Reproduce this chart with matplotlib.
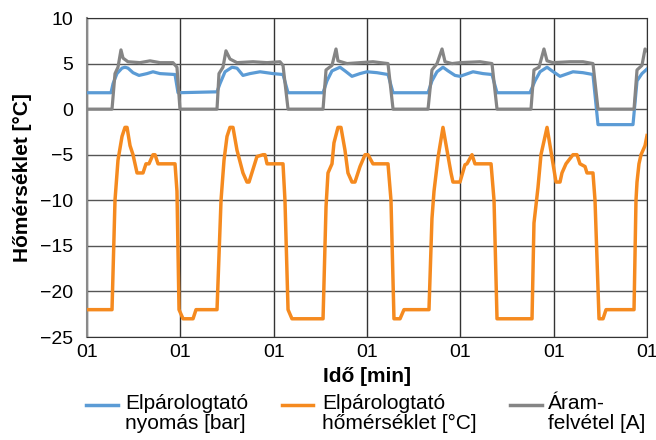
import matplotlib.pyplot as plt
from matplotlib.lines import Line2D

plt.rcParams['font.family'] = ['Liberation Sans', 'DejaVu Sans']

# Elpárologtató nyomás [bar]
t_nyomas = [0.0, 2.57, 2.79, 3.21, 3.75, 4.07, 4.39, 4.93, 5.57, 6.43, 7.07, 7.82, 9.43, 9.75,
            13.93, 14.25, 14.79, 15.54, 16.07, 16.71, 17.46, 18.54, 19.93, 21.0, 21.54,
            25.29, 25.71, 26.25, 27.11, 27.64, 28.39, 29.25, 30.0, 31.07, 32.25, 32.79,
            36.54, 36.96, 37.5, 38.14, 38.68, 39.43, 39.96, 41.36, 42.43, 43.39, 43.93,
            47.46, 48.0, 48.54, 49.29, 49.82, 50.68, 52.07, 53.14, 54.21, 54.75,
            58.5, 58.93, 59.46, 60.0]
nyomas = [1.8, 1.8, 2.8, 3.9, 4.5, 4.6, 4.5, 4.0, 3.7, 3.9, 4.1, 3.9, 3.8, 1.8,
          1.9, 2.8, 4.1, 4.6, 4.5, 3.7, 3.9, 4.1, 3.9, 3.8, 1.8,
          1.8, 3.1, 4.2, 4.6, 4.2, 3.6, 3.9, 4.1, 4.0, 3.8, 1.8,
          1.8, 3.1, 4.1, 4.6, 4.2, 3.7, 3.6, 4.1, 3.9, 3.8, 1.8,
          1.8, 3.1, 4.1, 4.6, 4.2, 3.6, 4.1, 4.0, 3.8, -1.7,
          -1.7, 3.1, 3.9, 4.4]

# Elpárologtató hőmérséklet [°C]
t_homerseklet = [0.0, 2.68, 3.0, 3.32, 3.75, 4.07, 4.29, 4.61, 4.93, 5.36, 6.0, 6.32, 6.64,
                 7.07, 7.29, 7.61, 9.43, 9.64, 9.86, 10.29, 11.36, 11.68,
                 13.93, 14.36, 14.68, 15.0, 15.32, 15.64, 16.07, 16.71, 17.14, 17.36, 18.21,
                 18.86, 19.07, 19.29, 21.0, 21.21, 21.54, 21.96,
                 25.29, 25.61, 25.82, 26.25, 26.46, 26.89, 27.21, 27.64, 27.96, 28.39, 28.71,
                 29.25, 29.79, 30.11, 30.64, 32.25, 32.57, 32.89, 33.54, 33.96,
                 36.64, 36.96, 37.18, 37.61, 38.14, 38.57, 39.0, 39.21, 39.96, 40.5, 40.71,
                 41.25, 41.57, 43.29, 43.61, 43.93,
                 47.68, 47.89, 48.32, 48.64, 49.29, 50.25, 50.68, 50.89, 51.32, 52.07, 52.5,
                 52.82, 53.36, 53.57, 54.21, 54.43, 54.86, 55.29, 55.61,
                 58.61, 58.82, 58.93, 59.14, 59.36, 59.79, 60.0]
homerseklet = [-22, -22, -10, -5.6, -3, -2, -2, -4, -5, -7, -7, -6, -6,
               -5, -5, -6, -6, -9, -22, -23, -23, -22,
               -22, -10, -5.6, -3, -2, -2, -4.5, -7, -8, -8, -5.2,
               -5, -5, -6, -6, -10, -22, -23,
               -23, -10.7, -7, -6, -3.7, -2, -2, -4.5, -7, -8, -8,
               -6.3, -5, -5, -6, -6, -10, -23, -23, -22,
               -22, -12, -9, -5.3, -2, -4.5, -7, -8, -8, -6.1, -6,
               -5, -6, -6, -10, -23,
               -23, -12.5, -8.6, -5, -2, -8, -8, -7, -6, -5, -5,
               -6, -6.3, -7, -7, -10, -23, -23, -22,
               -22, -10, -8, -6, -5, -4, -2.9]

# Áramfelvétel [A]
t_aram = [0.0, 2.68, 3.0, 3.32, 3.64, 3.86, 4.39, 5.68, 6.75, 7.82, 9.21, 9.64, 9.96,
          13.93, 14.14, 14.57, 14.89, 15.32, 16.07, 17.79, 19.29, 20.68, 21.0, 21.54,
          25.29, 25.61, 26.25, 26.68, 26.89, 27.86, 29.25, 30.64, 32.25, 32.79,
          36.54, 36.96, 37.5, 38.04, 38.36, 39.11, 39.96, 42.11, 43.39, 43.93,
          47.57, 47.89, 48.43, 48.96, 49.29, 49.93, 51.75, 53.14, 54.21, 54.75,
          58.61, 58.93, 59.46, 59.79, 60.0]
aram = [0, 0, 3.9, 4.6, 6.5, 5.6, 5.2, 5.1, 5.3, 5.1, 5.1, 4.6, 0,
        0, 3.9, 4.6, 6.4, 5.5, 5.1, 5.2, 5.1, 5.2, 4.8, 0,
        0, 4.3, 4.8, 6.6, 5.3, 5.0, 5.1, 5.2, 5.0, 0,
        0, 4.3, 5.0, 6.6, 5.2, 5.0, 5.1, 5.2, 5.0, 0,
        0, 4.3, 4.6, 6.6, 5.3, 5.1, 5.2, 5.2, 5.0, 0,
        0, 4.3, 4.8, 6.6, 6.4]

x_ticks = [0, 10, 20, 30, 40, 50, 60]
x_tick_labels = ['01'] * len(x_ticks)
y_ticks = [-25, -20, -15, -10, -5, 0, 5, 10]

kek = '#5b9bd5'
narancs = '#f58a1f'
szurke = '#858585'

fig = plt.figure(figsize=(6.56, 4.40), dpi=100)
ax = fig.add_axes([87 / 656, 1 - 337 / 440, 560 / 656, 319 / 440])

ax.plot(t_nyomas, nyomas, color=kek, lw=2.3, solid_joinstyle='round', zorder=3)
ax.plot(t_homerseklet, homerseklet, color=narancs, lw=2.5, solid_joinstyle='round', zorder=3)
ax.plot(t_aram, aram, color=szurke, lw=2.3, solid_joinstyle='round', zorder=4)

ax.set_xlim(0, 60)
ax.set_ylim(-25, 10)
ax.set_xticks(x_ticks)
ax.set_xticklabels(x_tick_labels)
ax.set_yticks(y_ticks)
ax.tick_params(axis='both', length=0, labelsize=14)
ax.tick_params(axis='y', pad=10)
ax.tick_params(axis='x', pad=5)

ax.grid(axis='y', color='#555555', lw=1.0)
ax.grid(axis='x', color='#333333', lw=1.0)
ax.set_axisbelow(True)
for side in ['top', 'right', 'bottom']:
    ax.spines[side].set_color('#333333')
ax.spines['left'].set_color('#8a8a8a')
ax.spines['left'].set_linewidth(1.5)

ax.set_xlabel('Idő [min]', fontsize=15, fontweight='bold', labelpad=4)
ax.set_ylabel('Hőmérséklet [°C]', fontsize=15, fontweight='bold', labelpad=6)

# jelmagyarázat három oszlopban, a vonal az első sor magasságában
jelmagyarazat = [
    (kek, 'Elpárologtató\nnyomás [bar]', 86, 118, 125),
    (narancs, 'Elpárologtató\nhőmérséklet [°C]', 282, 313, 322),
    (szurke, 'Áram-\nfelvétel [A]', 510, 542, 548),
]
for szin, felirat, x0, x1, xt in jelmagyarazat:
    fig.add_artist(Line2D([x0 / 656, x1 / 656], [1 - 405 / 440] * 2,
                          transform=fig.transFigure, color=szin, lw=2.5))
    fig.text(xt / 656, 1 - 394 / 440, felirat, fontsize=15, va='top', ha='left',
             linespacing=1.05)

fig.savefig('out.png', dpi=100)
